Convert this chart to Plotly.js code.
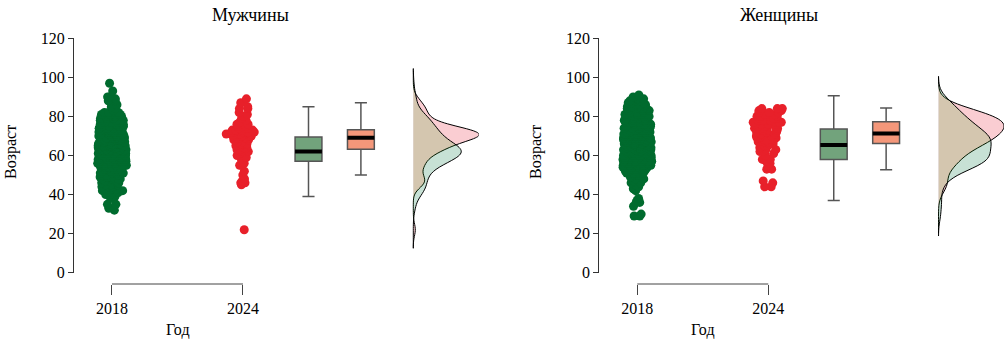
<!DOCTYPE html>
<html><head><meta charset="utf-8">
<script src="https://cdn.plot.ly/plotly-3.0.1.min.js"></script>
<style>html,body{margin:0;padding:0;background:#fff}</style>
</head><body><div id="chart" style="width:1004px;height:358px"></div>
<script>
// ---------------- data ----------------
const yearLabels = ['2018', '2024'];
const yearPos = [1, 2];
const panelTitles = ['Мужчины', 'Женщины'];
const xTitle = 'Год';
const yTitle = 'Возраст';
const yTicks = [0, 20, 40, 60, 80, 100, 120];

const men2018 = [
  32,33,35,35,39,39,40,40,41,42,42,43,43,44,44,45,45,46,46,47,48,48,49,50,50,
  51,51,52,52,53,53,54,54,54,55,55,55,55,56,56,56,56,56,56,57,57,57,57,57,57,
  57,57,57,58,58,58,58,58,58,59,59,59,59,59,59,59,59,60,60,60,60,60,60,60,60,
  60,60,61,61,61,61,61,61,61,61,61,61,61,62,62,62,62,62,62,62,62,62,62,62,62,
  63,63,63,63,63,63,63,63,63,63,64,64,64,64,64,64,64,64,64,65,65,65,65,65,65,
  65,65,66,66,66,66,66,66,66,67,67,67,67,67,67,68,68,68,68,68,69,69,69,69,69,
  70,70,70,70,71,71,71,71,72,72,72,72,73,73,73,73,74,74,74,74,75,75,75,75,76,
  76,76,77,77,77,78,78,78,79,79,80,80,80,81,81,82,82,84,85,88,89,90,90,93,97,
  38,40,41,41,42,43,44,45,45,46,46,47,47,48,48,49,49,49,50,50,51,51,52,52,52,
  53,53,53,54,54,54,55,55,55,55,56,56,56,56,56,44,43,42,47,50,
  57,57,57,58,58,58,58,59,59,59,59,59,60,60,60,60,60,61,61,61,61,61,61,62,62,
  62,62,62,62,62,63,63,63,63,63,63,64,64,64,64,64,64,65,65,65,65,65,66,66,66,
  66,66,67,67,67,67,68,68,68,68,69,69,69,69,69,
  70,70,70,70,71,71,71,71,72,72,72,72,73,73,73,74,74,74,75,75,75,76,76,76,77,
  77,77,78,78,79,79,80,80,81,81,82,82,83,86,88
];
const men2024 = [
  22,45,46,46,47,50,52,55,55,58,60,61,62,63,63,64,64,65,66,66,67,68,68,69,69,
  69,70,70,70,70,70,71,71,71,71,71,72,72,72,72,73,73,73,74,74,75,75,76,77,79,
  80,81,84,84,85,87,89,59,62,64,65,67,68,69,70,70,71,72,72,73,74,76,78,82,48,
  56,66
];
const women2018 = [
  29,29,30,34,36,36,37,38,42,43,45,46,47,48,50,50,51,51,51,52,52,52,53,53,53,
  53,54,54,54,54,54,55,55,55,55,55,55,56,56,56,56,56,56,56,57,57,57,57,57,57,
  57,57,57,57,57,58,58,58,58,58,58,58,59,59,59,59,59,59,59,60,60,60,60,60,60,
  60,61,61,61,61,61,61,61,62,62,62,62,62,62,62,63,63,63,63,63,63,63,64,64,64,
  64,64,64,64,65,65,65,65,65,65,66,66,66,66,66,66,66,67,67,67,67,67,67,67,67,
  68,68,68,68,68,68,68,69,69,69,69,69,69,69,70,70,70,70,70,70,70,71,71,71,71,
  71,71,71,72,72,72,72,72,72,73,73,73,73,73,73,74,74,74,74,74,75,75,75,75,75,
  76,76,76,76,76,77,77,77,77,78,78,78,78,79,79,79,79,80,80,80,80,81,81,81,82,
  82,82,83,83,83,84,84,84,85,85,85,86,86,87,87,88,88,89,90,91,
  44,46,48,49,50,50,51,51,52,52,53,53,54,54,54,55,55,55,56,56,56,57,57,57,57,
  58,58,58,59,59,59,59,60,60,60,60,61,61,61,61,62,62,62,62,63,63,63,63,64,64,
  64,64,65,65,65,66,66,66,66,67,67,67,67,67,68,68,68,68,68,69,69,69,69,69,70,
  70,70,70,70,71,71,71,71,72,72,72,72,73,73,73,
  74,74,74,75,75,75,76,76,76,77,77,77,78,78,78,79,79,80,80,81,81,82,82,83,84,
  85,86,87,88,89
];
const women2024 = [
  44,44,47,53,53,55,56,58,58,60,62,62,63,64,65,66,66,67,67,68,68,69,69,70,70,
  71,71,71,72,72,73,73,74,74,75,75,76,76,76,77,77,77,78,78,78,79,79,80,80,81,
  81,82,82,83,83,84,84,46,57,61,63,65,67,68,70,72,73,74,75,76,77,78,79,80,82,
  84,69
];
// box statistics: [lower whisker, Q1, median, Q3, upper whisker]
const menBox2018 = [39, 57, 62, 69.5, 85];
const menBox2024 = [50, 63.2, 69.1, 73.2, 87];
const womenBox2018 = [37, 57.9, 65.4, 73.6, 90.6];
const womenBox2024 = [52.7, 66.2, 71.3, 77.3, 84.3];
// extent of the density curves
const menSpan = [12.5, 104.5];
const womenSpan = [18.8, 100.5];

// ---------------- style ----------------
const W = 1004, H = 358;
const px = v => v / W;
const py = v => 1 - v / H;
const FONT = 'Liberation Serif, Times New Roman, serif';
const greenPt = '#006b2e', redPt = '#e8202a';
const greenBox = '#72a37c', orangeBox = '#f4977a';
// layered fills: light base under the pink, translucent green on top
const greenBase = 'rgb(235,237,255)';
const pinkFill = 'rgb(250,205,210)';
const greenTop = 'rgba(26,164,4,0.17)';
const boxPos = [2.5, 2.9], boxW = 0.205, violinPos = 3.3;
const bracketY = py(284);

function panel(k, d18, d24, b18, b24, span) {
  const xa = k === 0 ? 'x' : 'x2', ya = k === 0 ? 'y' : 'y2';
  const t = [];
  // jittered points
  [[d18, greenPt, yearPos[0], 0.22], [d24, redPt, yearPos[1], 0.26]].forEach(([d, c, p, w]) => {
    t.push({type: 'box', y: d, x0: p, xaxis: xa, yaxis: ya, boxpoints: 'all', jitter: 1, pointpos: 0,
      width: w, fillcolor: 'rgba(0,0,0,0)', line: {width: 0, color: 'rgba(0,0,0,0)'},
      marker: {color: c, size: 9, line: {width: 0}}, whiskerwidth: 0, hoverinfo: 'y', showlegend: false});
  });
  // box plots
  [[b18, greenBox, boxPos[0]], [b24, orangeBox, boxPos[1]]].forEach(([b, c, p]) => {
    t.push({type: 'box', orientation: 'v', x: [p], lowerfence: [b[0]], q1: [b[1]], median: [b[2]],
      q3: [b[3]], upperfence: [b[4]], xaxis: xa, yaxis: ya, width: boxW, whiskerwidth: 0.45,
      fillcolor: c, line: {color: '#555', width: 1.5}, boxpoints: false, showlegend: false});
    t.push({type: 'scatter', mode: 'lines', x: [p - boxW / 2, p + boxW / 2], y: [b[2], b[2]],
      xaxis: xa, yaxis: ya, line: {color: '#000', width: 4}, hoverinfo: 'skip', showlegend: false});
  });
  // half violins (green base, pink, green translucent overlay)
  [[d18, greenBase, 0], [d24, pinkFill, 1], [d18, greenTop, 1]].forEach(([d, c, lw]) => {
    t.push({type: 'violin', y: d, x0: violinPos, xaxis: xa, yaxis: ya, side: 'positive',
      points: false, box: {visible: false}, meanline: {visible: false},
      line: {color: lw ? '#000' : 'rgba(0,0,0,0)', width: lw ? 1 : 0}, fillcolor: c,
      scalegroup: 'g' + k, scalemode: 'width',
      spanmode: 'manual', span: span, hoverinfo: 'skip', showlegend: false});
  });
  return t;
}

const traces = [
  ...panel(0, men2018, men2024, menBox2018, menBox2024, menSpan),
  ...panel(1, women2018, women2024, womenBox2018, womenBox2024, womenSpan)
];

const xCommon = {
  type: 'linear', range: [0.71, 3.8], tickvals: yearPos, ticktext: yearLabels,
  ticks: 'outside', ticklen: 10, tickcolor: '#444', tickwidth: 1,
  showline: false, showgrid: false, zeroline: false, anchor: 'free', position: bracketY,
  tickfont: {family: FONT, size: 16, color: '#000'}, fixedrange: true
};
const yCommon = {
  range: [0, 120], tickvals: yTicks, ticks: 'outside', ticklen: 5, tickcolor: '#333',
  showline: true, linecolor: '#333', linewidth: 1, showgrid: false, zeroline: false,
  domain: [py(272.7), py(38.3)], tickfont: {family: FONT, size: 16, color: '#000'}
};

const annotations = [
  {text: panelTitles[0], x: px(250), y: py(15), font: {family: FONT, size: 18, color: '#000'}},
  {text: panelTitles[1], x: px(779), y: py(15), font: {family: FONT, size: 18, color: '#000'}},
  {text: xTitle, x: px(177.5), y: py(330)},
  {text: xTitle, x: px(703), y: py(330)},
  {text: yTitle, x: px(11), y: py(152), textangle: -90},
  {text: yTitle, x: px(536), y: py(152), textangle: -90}
].map(a => Object.assign({xref: 'paper', yref: 'paper', showarrow: false, xanchor: 'center',
  yanchor: 'middle', font: {family: FONT, size: 16, color: '#000'}}, a));

const shapes = ['x', 'x2'].map(xr => ({type: 'line', xref: xr, yref: 'paper',
  x0: yearPos[0], x1: yearPos[1], y0: bracketY, y1: bracketY, line: {color: '#444', width: 1}}));

const layout = {
  width: W, height: H, margin: {l: 0, r: 0, t: 0, b: 0},
  paper_bgcolor: '#fff', plot_bgcolor: '#fff', showlegend: false,
  boxmode: 'overlay', violinmode: 'overlay', violingap: 0, violingroupgap: 0,
  xaxis: Object.assign({}, xCommon, {domain: [px(74), px(478.8)]}),
  xaxis2: Object.assign({}, xCommon, {domain: [px(599.3), 1]}),
  yaxis: Object.assign({}, yCommon, {anchor: 'x'}),
  yaxis2: Object.assign({}, yCommon, {anchor: 'x2'}),
  annotations: annotations, shapes: shapes, font: {family: FONT}
};

Plotly.newPlot('chart', traces, layout, {staticPlot: true, displayModeBar: false});
</script></body></html>
